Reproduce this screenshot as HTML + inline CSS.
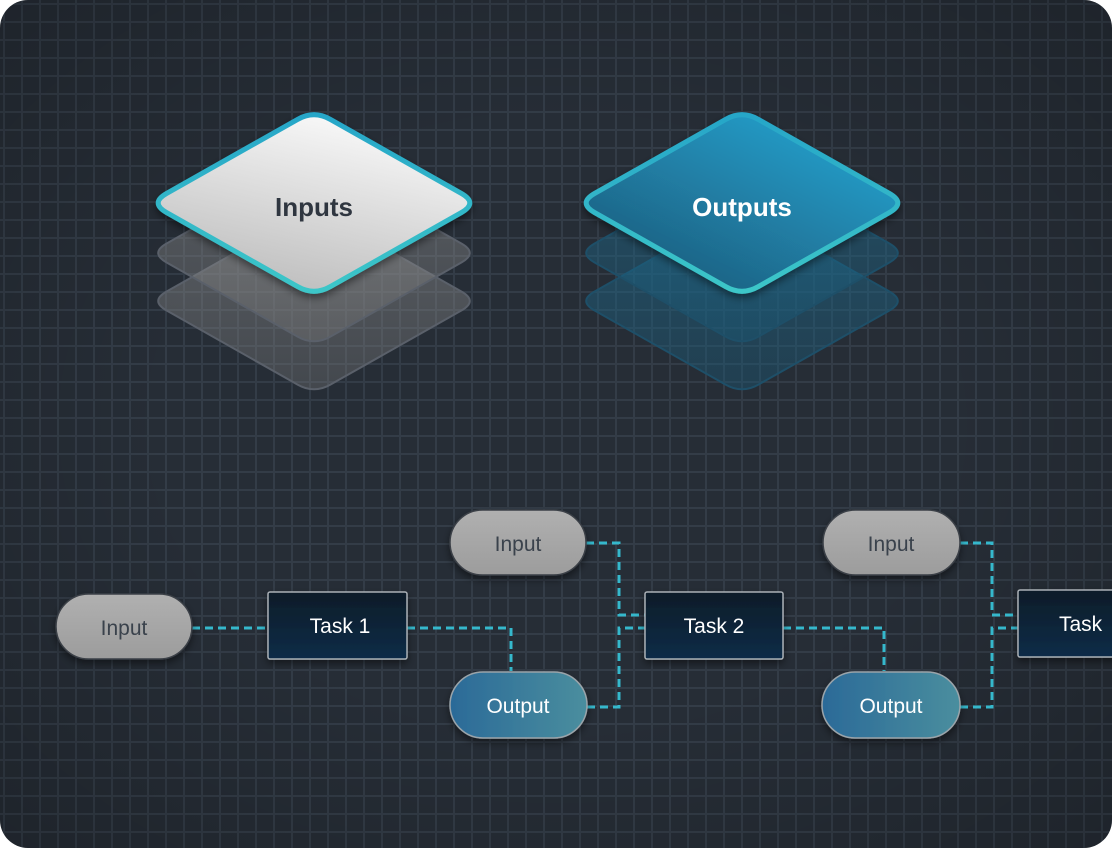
<!DOCTYPE html>
<html><head><meta charset="utf-8"><style>
html,body{margin:0;padding:0;background:#fff;}
body{width:1112px;height:848px;overflow:hidden;}
svg{display:block;font-family:"Liberation Sans",sans-serif;}
</style></head><body>
<svg width="1112" height="848" viewBox="0 0 1112 848" xmlns="http://www.w3.org/2000/svg">
<defs>
<pattern id="grid" width="18" height="18" patternUnits="userSpaceOnUse" x="3" y="3">
<rect width="18" height="18" fill="#262d36"/>
<path d="M0 1H18M1 0V18" stroke="#333c47" stroke-width="2"/>
</pattern>
<radialGradient id="vig" cx="50%" cy="50%" r="70%">
<stop offset="0.5" stop-color="#000" stop-opacity="0"/>
<stop offset="1" stop-color="#000" stop-opacity="0.2"/>
</radialGradient>
<clipPath id="clip"><rect width="1112" height="848" rx="28"/></clipPath>
<path id="dia" d="M297.6,119.4 Q314,110 330.4,119.4 L461.6,193.6 Q478,203 461.6,212.4 L330.4,286.6 Q314,296 297.6,286.6 L166.4,212.4 Q150,203 166.4,193.6 Z"/>
<linearGradient id="wg" x1="0.7" y1="0" x2="0.3" y2="1"><stop offset="0" stop-color="#fbfbfb"/><stop offset="1" stop-color="#bcbcbc"/></linearGradient>
<linearGradient id="bg" x1="0.8" y1="0.2" x2="0.2" y2="0.9"><stop offset="0" stop-color="#2299c4"/><stop offset="1" stop-color="#1e5f80"/></linearGradient>
<linearGradient id="ring" x1="0" y1="0" x2="0" y2="1"><stop offset="0" stop-color="#27a6c8"/><stop offset="1" stop-color="#3cc6c8"/></linearGradient>
<linearGradient id="gl" x1="0" y1="0" x2="0" y2="1"><stop offset="0" stop-color="#9a9a9a" stop-opacity="0.45"/><stop offset="1" stop-color="#7a7a7a" stop-opacity="0.35"/></linearGradient>
<linearGradient id="bl" x1="0" y1="0" x2="0" y2="1"><stop offset="0" stop-color="#1f6f92" stop-opacity="0.5"/><stop offset="1" stop-color="#1a5a78" stop-opacity="0.4"/></linearGradient>
<linearGradient id="pin" x1="0" y1="0" x2="0" y2="1"><stop offset="0" stop-color="#b0b0b0"/><stop offset="1" stop-color="#9c9c9c"/></linearGradient>
<linearGradient id="pout" x1="0" y1="0" x2="1" y2="0"><stop offset="0" stop-color="#2b6a98"/><stop offset="1" stop-color="#4a8e9e"/></linearGradient>
<linearGradient id="task" x1="0" y1="0" x2="0" y2="1"><stop offset="0" stop-color="#101c28"/><stop offset="1" stop-color="#082c48"/></linearGradient>
<filter id="sh" x="-20%" y="-20%" width="140%" height="160%"><feDropShadow dx="0" dy="4" stdDeviation="4" flood-color="#000" flood-opacity="0.45"/></filter>
</defs>
<g clip-path="url(#clip)">
<rect width="1112" height="848" fill="url(#grid)"/>
<rect width="1112" height="848" fill="url(#vig)"/>

<use href="#dia" transform="translate(0,98)" fill="url(#gl)" stroke="#5a606a" stroke-width="2"/>
<use href="#dia" transform="translate(0,50)" fill="url(#gl)" stroke="#5a606a" stroke-width="2"/>
<use href="#dia" fill="url(#wg)" stroke="url(#ring)" stroke-width="5" filter="url(#sh)"/>
<text x="314" y="216" text-anchor="middle" font-size="26" font-weight="bold" fill="#2f3640">Inputs</text>

<g transform="translate(428,0)">
<use href="#dia" transform="translate(0,98)" fill="url(#bl)" stroke="#1e4f68" stroke-width="2"/>
<use href="#dia" transform="translate(0,50)" fill="url(#bl)" stroke="#1e4f68" stroke-width="2"/>
<use href="#dia" fill="url(#bg)" stroke="url(#ring)" stroke-width="5" filter="url(#sh)"/>
</g>
<text x="742" y="216" text-anchor="middle" font-size="26" font-weight="bold" fill="#fff">Outputs</text>

<g fill="none" stroke="#35b8cc" stroke-width="3" stroke-dasharray="8 5">
<path d="M192 628H268"/>
<path d="M407 628H511V671"/>
<path d="M586 543H619V615H645"/>
<path d="M587 707H619V628H645"/>
<path d="M783 628H884V671"/>
<path d="M960 543H992V615H1018"/>
<path d="M960 707H992V628H1018"/>
</g>

<g filter="url(#sh)">
<rect x="56" y="594" width="136" height="65" rx="32.5" fill="url(#pin)" stroke="#3a3f46" stroke-width="1.5"/>
<rect x="450" y="510" width="136" height="65" rx="32.5" fill="url(#pin)" stroke="#3a3f46" stroke-width="1.5"/>
<rect x="823" y="510" width="137" height="65" rx="32.5" fill="url(#pin)" stroke="#3a3f46" stroke-width="1.5"/>
<rect x="450" y="672" width="137" height="66" rx="33" fill="url(#pout)" stroke="#9aa4aa" stroke-width="1.5"/>
<rect x="822" y="672" width="138" height="66" rx="33" fill="url(#pout)" stroke="#9aa4aa" stroke-width="1.5"/>
<rect x="268" y="592" width="139" height="67" rx="2" fill="url(#task)" stroke="#aab0b6" stroke-width="1.5"/>
<rect x="645" y="592" width="138" height="67" rx="2" fill="url(#task)" stroke="#aab0b6" stroke-width="1.5"/>
<rect x="1018" y="590" width="120" height="67" rx="2" fill="url(#task)" stroke="#aab0b6" stroke-width="1.5"/>
</g>
<g font-size="21" text-anchor="middle">
<text x="124" y="635" fill="#3a424c">Input</text>
<text x="518" y="551" fill="#3a424c">Input</text>
<text x="891" y="551" fill="#3a424c">Input</text>
<text x="518" y="713" fill="#fff">Output</text>
<text x="891" y="713" fill="#fff">Output</text>
<text x="340" y="633" fill="#fff">Task 1</text>
<text x="714" y="633" fill="#fff">Task 2</text>
<text x="1059" y="631" fill="#fff" text-anchor="start">Task</text>
</g>
</g>
</svg>
</body></html>
